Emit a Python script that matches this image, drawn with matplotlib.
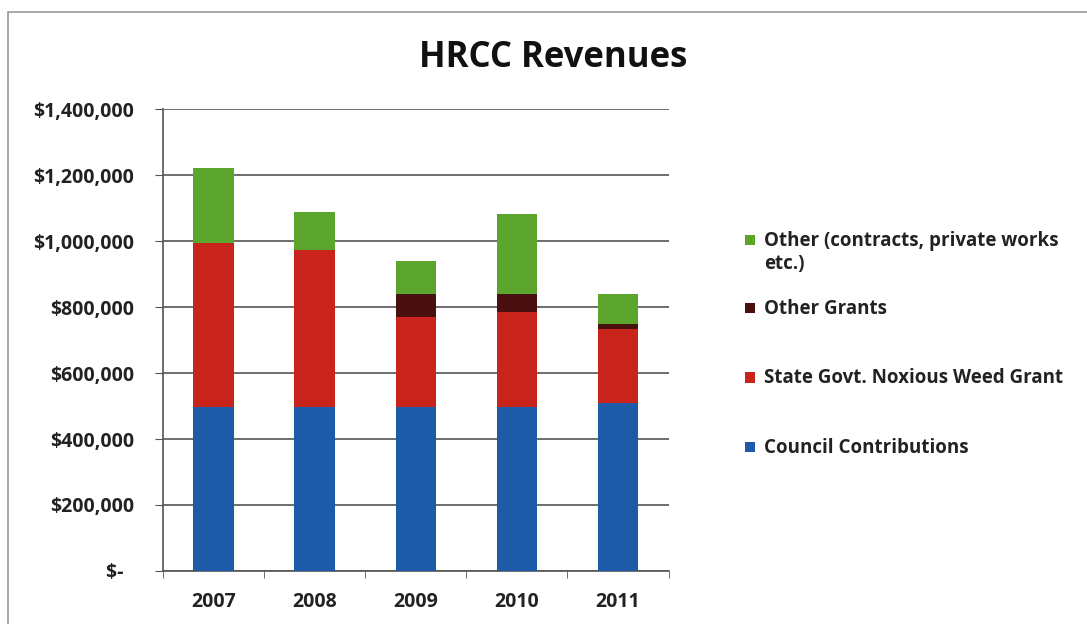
import matplotlib
matplotlib.use('Agg')
import matplotlib.pyplot as plt
from matplotlib.ticker import FuncFormatter, FixedLocator
from matplotlib.patches import Rectangle
import numpy as np

plt.rcParams['font.family'] = ['Open Sans', 'DejaVu Sans']

# data
years = ['2007', '2008', '2009', '2010', '2011']
council = [497000, 497000, 497000, 497000, 510000]
state_grant = [498000, 475000, 274000, 288000, 223000]
other_grants = [0, 0, 68000, 54000, 15000]
other = [226000, 116000, 101000, 242000, 93000]

series = [
    ('Council Contributions', council, '#1d5aa8'),
    ('State Govt. Noxious Weed Grant', state_grant, '#c8241c'),
    ('Other Grants', other_grants, '#4a0f0f'),
    ('Other (contracts, private works\netc.)', other, '#5ca52c'),
]

fig = plt.figure(figsize=(10.87, 6.24), dpi=100)
ax = fig.add_axes([0.150, 0.085, 0.465, 0.740])

# outer chart frame
fig.patches.append(Rectangle((0.007, -0.02), 1.1, 1.0, transform=fig.transFigure,
                             fill=False, edgecolor='#9a9a9a', linewidth=1.2))

x = np.arange(len(years))
bottom = np.zeros(len(years))
for name, vals, col in series:
    ax.bar(x, vals, width=0.4, bottom=bottom, color=col, zorder=3)
    bottom += np.array(vals)

ax.set_ylim(0, 1400000)
ax.set_xlim(-0.5, len(years) - 0.5)
ax.set_yticks(np.arange(0, 1400001, 200000))

def money(v, pos):
    if v == 0:
        return '$-  '
    return '${:,.0f}'.format(v)

ax.yaxis.set_major_formatter(FuncFormatter(money))
ax.set_xticks(x)
ax.set_xticklabels(years)
ax.xaxis.set_minor_locator(FixedLocator(np.arange(-0.5, len(years), 1.0)))
ax.tick_params(axis='x', which='major', length=0, pad=15)
ax.tick_params(axis='x', which='minor', length=5, color='#555555')
ax.tick_params(axis='y', length=6, color='#555555', pad=15)
for lab in ax.get_xticklabels() + ax.get_yticklabels():
    lab.set_fontweight('bold')
    lab.set_fontsize(14)
    lab.set_color('#222222')

ax.grid(axis='y', color='#555555', linewidth=1.2, zorder=0)
for s in ['top', 'right']:
    ax.spines[s].set_visible(False)
for s in ['left', 'bottom']:
    ax.spines[s].set_color('#555555')
    ax.spines[s].set_linewidth(1.2)

fig.text(0.509, 0.907, 'HRCC Revenues', ha='center', va='center',
         fontsize=25, fontweight='bold', color='#111111')

# legend, drawn entry by entry (top to bottom) to keep Excel's spacing
leg_y = [0.615, 0.506, 0.395, 0.283]
for (name, vals, col), yy in zip(series[::-1], leg_y):
    fig.patches.append(Rectangle((0.6855, yy - 0.008), 0.0095, 0.0165,
                                 transform=fig.transFigure, facecolor=col,
                                 edgecolor='none'))
    fig.text(0.703, yy + 0.0145, name, ha='left', va='top', fontsize=13.5,
             fontweight='bold', color='#222222', linespacing=1.2)

plt.savefig('out.png', dpi=100)
